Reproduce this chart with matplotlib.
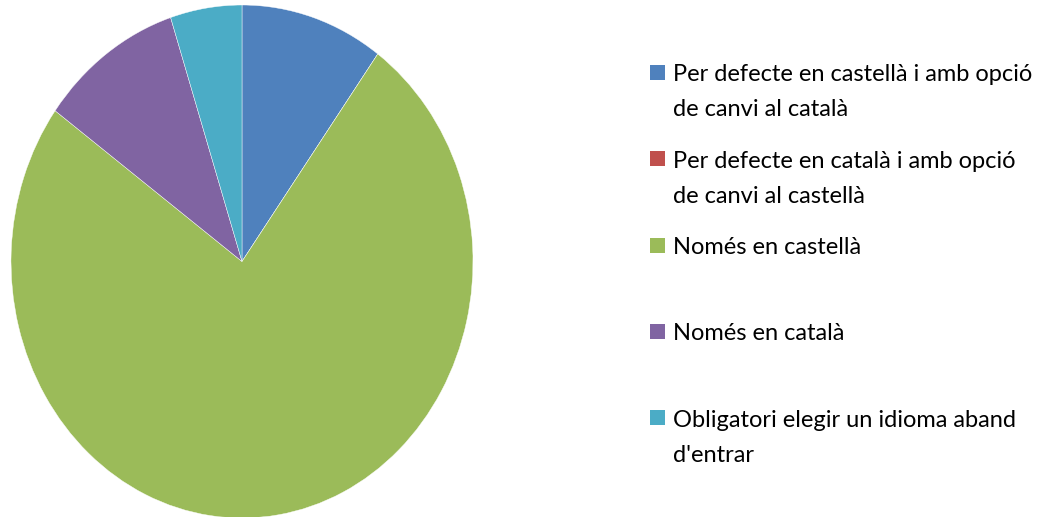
import matplotlib
matplotlib.use("Agg")
import matplotlib.pyplot as plt
from matplotlib.patches import Rectangle

categories = [
    "Per defecte en castellà i amb opció\nde canvi al català",
    "Per defecte en català i amb opció\nde canvi al castellà",
    "Només en castellà",
    "Només en català",
    "Obligatori elegir un idioma aband\nd'entrar",
]
values = [10, 0, 75, 10, 5]
colors = ["#4F81BD", "#C0504D", "#9BBB59", "#8064A2", "#4BACC6"]

W, H = 1043, 517
fig = plt.figure(figsize=(W / 100, H / 100), dpi=100)
plt.rcParams['font.family'] = ['Lato', 'DejaVu Sans']

# pie axes (elliptical pie like the original)
left, right, top, bottom = 11, 473, 5, 518
ax = fig.add_axes([left / W, 1 - bottom / H, (right - left) / W, (bottom - top) / H])
wedges, _ = ax.pie(values, colors=colors, startangle=90, counterclock=False,
                   wedgeprops=dict(edgecolor="white", linewidth=0.3))
for w in wedges:
    w.set_clip_on(False)
ax.set_aspect('auto')
ax.set_xlim(-1, 1)
ax.set_ylim(-1, 1)
ax.axis('off')

# legend drawn manually
mx, msz = 650, 15
tx = 673
y0, dy_item, dy_line = 73, 86.3, 35
fs = 17
for i, (lab, col) in enumerate(zip(categories, colors)):
    yc = y0 + i * dy_item
    fig.patches.append(Rectangle((mx / W, 1 - (yc - 0.5 + msz / 2) / H), msz / W, msz / H,
                                 transform=fig.transFigure, facecolor=col, edgecolor='none'))
    for k, line in enumerate(lab.split("\n")):
        fig.text(tx / W, 1 - (yc + k * dy_line) / H, line, fontsize=fs,
                 va='center_baseline', ha='left', color='black')

fig.savefig("out.png", dpi=100)
